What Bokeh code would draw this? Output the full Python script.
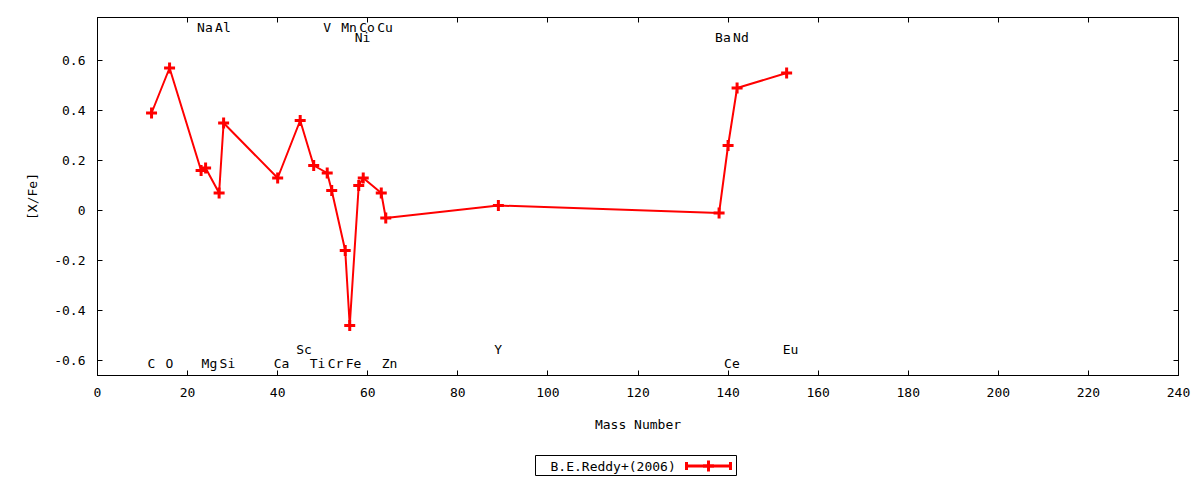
from bokeh.plotting import figure
from bokeh.models import ColumnDataSource, Range1d, FixedTicker, LinearAxis, CustomJSTickFormatter, Spacer
from bokeh.layouts import column, row
from bokeh.core.properties import value
from bokeh.embed import file_html
from bokeh.resources import INLINE

# ---- data ----
elements = ["C", "O", "Na", "Mg", "Al", "Si", "Ca", "Sc", "Ti", "V", "Cr",
            "Mn", "Fe", "Ni", "Co", "Cu", "Zn", "Y", "Ba", "Ce", "Nd", "Eu"]
mass = [12, 16, 23, 24, 27, 28, 40, 45, 48, 51, 52,
        55, 56, 58, 59, 63, 64, 89, 138, 140, 142, 153]
xfe = [0.39, 0.57, 0.16, 0.17, 0.07, 0.35, 0.13, 0.36, 0.18, 0.15, 0.08,
       -0.16, -0.46, 0.10, 0.13, 0.07, -0.03, 0.02, -0.01, 0.26, 0.49, 0.55]
label_row = ["b", "b", "t", "b", "t", "b", "b", "b2", "b", "t", "b",
             "t", "b", "t2", "t", "t", "b", "b2", "t2", "b", "t2", "b2"]
series_name = "B.E.Reddy+(2006)"
x_ticks = [0, 20, 40, 60, 80, 100, 120, 140, 160, 180, 200, 220, 240]
y_ticks = [-0.6, -0.4, -0.2, 0, 0.2, 0.4, 0.6]

FONT = "DejaVu Sans Mono"
FS = "13px"
RED = "#ff0000"
row_y = {"t": 0.733, "t2": 0.693, "b": -0.611, "b2": -0.555}

src = ColumnDataSource(dict(x=mass, y=xfe))
lsrc = ColumnDataSource(dict(x=mass, y=[row_y[r] for r in label_row], t=elements))

p = figure(width=1192, height=455, x_range=Range1d(0, 240), y_range=Range1d(-0.66, 0.772),
           output_backend="svg", toolbar_location=None,
           min_border_left=97, min_border_right=14, min_border_top=17, min_border_bottom=80)
p.xgrid.visible = False
p.ygrid.visible = False
p.outline_line_color = "black"
p.outline_line_alpha = 1
p.background_fill_color = "white"
p.border_fill_color = "white"

blank = CustomJSTickFormatter(code="return '';")

def style_axis(ax, ticks, show_labels=True):
    ax.ticker = FixedTicker(ticks=ticks)
    ax.major_tick_in = 5
    ax.major_tick_out = 0
    ax.minor_tick_in = 0
    ax.minor_tick_out = 0
    ax.axis_line_color = "black"
    ax.major_tick_line_color = "black"
    ax.major_label_text_font = FONT
    ax.major_label_text_color = "black"
    ax.axis_label_text_font = FONT
    ax.axis_label_text_font_style = "normal"
    ax.axis_label_text_font_size = FS
    ax.axis_label_text_color = "black"
    if show_labels:
        ax.major_label_text_font_size = FS
        ax.major_label_standoff = 12
    else:
        ax.formatter = blank
        ax.major_label_text_font_size = "1px"
        ax.major_label_standoff = 0

style_axis(p.xaxis[0], x_ticks)
style_axis(p.yaxis[0], y_ticks)
p.xaxis[0].axis_label = "Mass Number"
p.xaxis[0].axis_label_standoff = 17
p.yaxis[0].axis_label = "[X/Fe]"
p.yaxis[0].axis_label_standoff = 11
p.yaxis[0].formatter = CustomJSTickFormatter(code="return Math.abs(tick) < 1e-9 ? '0' : tick.toFixed(1);")

top_ax = LinearAxis()
style_axis(top_ax, x_ticks, show_labels=False)
p.add_layout(top_ax, "above")
right_ax = LinearAxis()
style_axis(right_ax, y_ticks, show_labels=False)
p.add_layout(right_ax, "right")

p.line("x", "y", source=src, line_color=RED, line_width=2)
p.scatter("x", "y", source=src, marker="cross", size=11, line_color=RED, line_width=3)

p.text("x", "y", text="t", source=lsrc, text_font=value(FONT), text_font_size=FS,
       text_align="left", text_baseline="middle", x_offset=-4, text_color="black")

# ---- key (label on the left, sample on the right, like gnuplot) ----
leg = figure(width=202, height=21, x_range=Range1d(0, 202), y_range=Range1d(0, 21),
             output_backend="svg", toolbar_location=None, min_border=0,
             x_axis_type=None, y_axis_type=None)
leg.xgrid.visible = False
leg.ygrid.visible = False
leg.outline_line_color = "black"
leg.outline_line_width = 1
leg.text(x=[15], y=[10.5], text=[series_name], text_font=value(FONT), text_font_size=FS,
         text_align="left", text_baseline="middle", text_color="black")
leg.line(x=[151, 195], y=[10.5, 10.5], line_color=RED, line_width=3)
leg.segment(x0=[151, 195], y0=[6.5, 6.5], x1=[151, 195], y1=[14.5, 14.5], line_color=RED, line_width=3)
leg.scatter(x=[173], y=[10.5], marker="cross", size=11, line_color=RED, line_width=3)

layout = column(p, row(Spacer(width=535, height=21), leg))

open("out.html", "w").write(file_html(layout, INLINE))
